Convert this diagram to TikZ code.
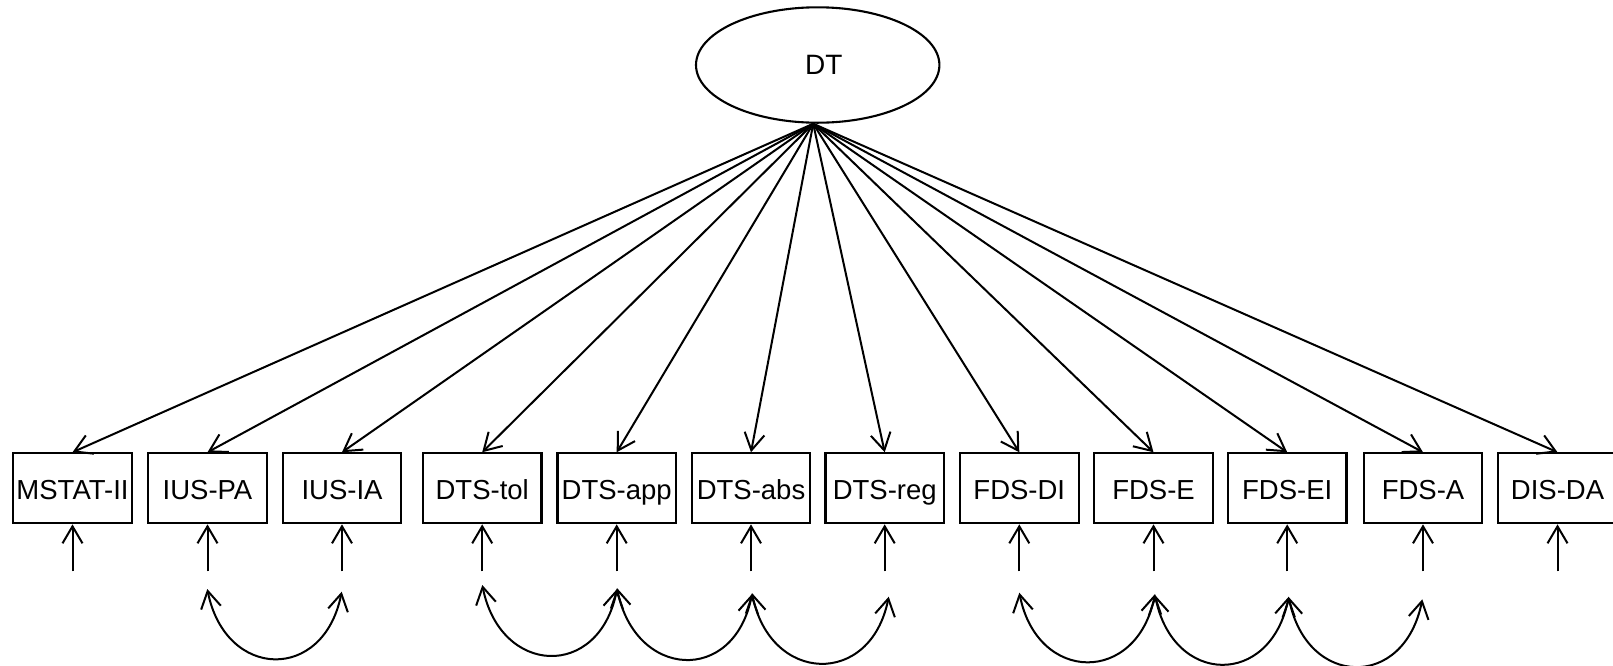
\documentclass[tikz,border=0pt]{standalone}
\usepackage{fontspec}
\setmainfont{Liberation Sans}
\usetikzlibrary{arrows.meta,shapes.geometric}
\tikzset{
  barb/.tip={Straight Barb[length=17pt,width=20pt]},
}
\begin{document}
\begin{tikzpicture}[x=1pt,y=-1pt,
  manifest/.style={draw, rectangle, line width=2.1pt, minimum width=118.5pt,
    minimum height=70pt, inner sep=0pt, font=\fontsize{27.5}{27.5}\selectfont,
    text height=23pt, text depth=0pt},
  latent/.style={draw, ellipse, line width=2.1pt, minimum width=243.4pt,
    minimum height=115.4pt, inner sep=0pt, font=\fontsize{28}{28}\selectfont},
  load/.style={line width=2pt, -barb},
  resid/.style={line width=2pt, -barb},
  cov/.style={line width=2pt, barb-barb},
]
\useasboundingbox (0,0) rectangle (1613,665);

% latent factor
\node[latent] (DT) at (817.7,65) {\hspace*{12pt}DT};
\coordinate (apex) at ([xshift=-4.5pt]DT.south);

% indicators
\node[manifest] (mstat)  at (72.5,488.3)   {MSTAT-II};
\node[manifest] (iuspa)  at (207.5,488.3)  {IUS-PA};
\node[manifest] (iusia)  at (342,488.3)    {IUS-IA};
\node[manifest] (dtstol) at (482.2,488.3)  {DTS-tol};
\node[manifest] (dtsapp) at (616.7,488.3)  {DTS-app};
\node[manifest] (dtsabs) at (751,488.3)    {DTS-abs};
\node[manifest] (dtsreg) at (884.7,488.3)  {DTS-reg};
\node[manifest] (fdsdi)  at (1019.3,488.3) {FDS-DI};
\node[manifest] (fdse)   at (1153.5,488.3) {FDS-E};
\node[manifest] (fdsei)  at (1287.2,488.3) {FDS-EI};
\node[manifest] (fdsa)   at (1423,488.3)   {FDS-A};
\node[manifest] (disda)  at (1557.5,488.3) {DIS-DA};

% loadings and residuals
\foreach \n in {mstat,iuspa,iusia,dtstol,dtsapp,dtsabs,dtsreg,fdsdi,fdse,fdsei,fdsa,disda}{
  \draw[load] (apex) -- (\n.north);
  \path (\n.south) ++(0,47) coordinate (e\n);
  \draw[resid] (e\n) -- (\n.south);
}

% residual covariances
\coordinate (p1a) at (207.3,589);   \coordinate (p1b) at (341.7,591.7);
\coordinate (p2a) at (482.3,585);   \coordinate (p2b) at (617,589);
\coordinate (p3a) at (617,588);     \coordinate (p3b) at (752,594);
\coordinate (p4a) at (752,593);     \coordinate (p4b) at (888.7,596.7);
\coordinate (p5a) at (1019.3,592.7);\coordinate (p5b) at (1155,594);
\coordinate (p6a) at (1155,595);    \coordinate (p6b) at (1288.7,596.7);
\coordinate (p7a) at (1288.7,597);  \coordinate (p7b) at (1422.3,599.3);
\foreach \i in {1,...,7}{
  \draw[cov] (p\i a) .. controls +(18,91) and +(-18,91) .. (p\i b);
}
\end{tikzpicture}
\end{document}
